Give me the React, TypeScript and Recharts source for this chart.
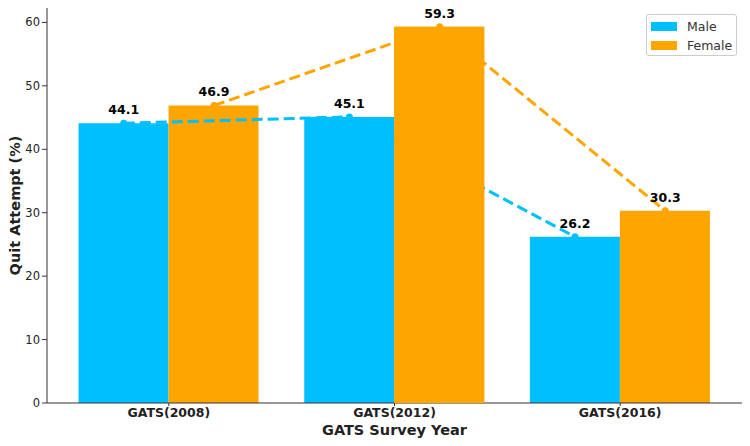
import React from 'react';
import { ComposedChart, Bar, Line, XAxis, YAxis, LabelList } from 'recharts';

const surveys = ['GATS(2008)', 'GATS(2012)', 'GATS(2016)'];
const male = [44.1, 45.1, 26.2];
const female = [46.9, 59.3, 30.3];
const yTicks = [0, 10, 20, 30, 40, 50, 60];

const MALE_COLOR = '#00BFFF';
const FEMALE_COLOR = '#FFA500';
const FONT = '"DejaVu Sans", sans-serif';

// bar table; femaleFront repeats the 2012 female bar so it sits above the dashed lines
const barData = surveys.map((s, i) => ({
  survey: s,
  male: male[i],
  female: female[i],
  femaleFront: i === 1 ? female[i] : null,
}));

// trend points sit on the bar centres (category index -/+ 0.2)
const maleLine = male.map((v, i) => ({ x: i - 0.2, value: v }));
const femaleLine = female.map((v, i) => ({ x: i + 0.2, value: v }));

const renderValue = (props: any) => {
  const { x, y, value } = props;
  return (
    <text x={x} y={y - 9} textAnchor="middle" fontSize={12.5} fontWeight="bold" fill="#000" fontFamily={FONT}>
      {value}
    </text>
  );
};

const legendItems = [
  { name: 'Male', color: MALE_COLOR },
  { name: 'Female', color: FEMALE_COLOR },
];

const App: React.FC = () => {
  return (
    <div style={{ position: 'absolute', left: 0, top: 0, width: 750, height: 446, background: '#fff', fontFamily: FONT }}>
      <ComposedChart
        width={750}
        height={446}
        data={barData}
        margin={{ top: 8, right: 8, left: 0, bottom: 0 }}
        barCategoryGap="10%"
        barGap={0}
      >
        <XAxis
          dataKey="survey"
          padding={{ left: 9, right: 9 }}
          height={43}
          stroke="#333"
          tickSize={3}
          tickMargin={2}
          tick={{ fontSize: 12.5, fontWeight: 'bold', fill: '#222', fontFamily: FONT }}
          label={({ viewBox }: any) => (
            <text
              x={viewBox.x + viewBox.width / 2}
              y={430}
              textAnchor="middle"
              dominantBaseline="central"
              fontSize={14.5}
              fontWeight="bold"
              fill="#222"
              fontFamily={FONT}
            >
              GATS Survey Year
            </text>
          )}
        />
        <XAxis xAxisId="front" dataKey="survey" padding={{ left: 9, right: 9 }} hide />
        <XAxis xAxisId="pos" type="number" dataKey="x" domain={[-0.54, 2.54]} allowDataOverflow hide />
        <YAxis
          width={47}
          domain={[0, 62.27]}
          ticks={yTicks}
          allowDataOverflow
          stroke="#333"
          tickSize={5}
          tickMargin={2}
          tick={{ fontSize: 11.5, fill: '#222', fontFamily: FONT }}
          label={({ viewBox }: any) => (
            <text
              x={15}
              y={viewBox.y + viewBox.height / 2}
              transform={`rotate(-90, 15, ${viewBox.y + viewBox.height / 2})`}
              textAnchor="middle"
              dominantBaseline="central"
              fontSize={14.5}
              fontWeight="bold"
              fill="#222"
              fontFamily={FONT}
            >
              Quit Attempt (%)
            </text>
          )}
        />
        <Bar dataKey="male" name="Male" fill={MALE_COLOR} isAnimationActive={false} />
        <Bar dataKey="female" name="Female" fill={FEMALE_COLOR} isAnimationActive={false} />
        <Line
          xAxisId="pos"
          data={maleLine}
          dataKey="value"
          stroke={MALE_COLOR}
          strokeWidth={3}
          strokeDasharray="11 5"
          dot={{ r: 3.5, fill: MALE_COLOR, stroke: 'none', strokeWidth: 0 }}
          activeDot={false}
          isAnimationActive={false}
        >
          <LabelList dataKey="value" content={renderValue} />
        </Line>
        <Line
          xAxisId="pos"
          data={femaleLine}
          dataKey="value"
          stroke={FEMALE_COLOR}
          strokeWidth={3}
          strokeDasharray="11 5"
          dot={{ r: 3.5, fill: FEMALE_COLOR, stroke: 'none', strokeWidth: 0 }}
          activeDot={false}
          isAnimationActive={false}
        >
          <LabelList dataKey="value" content={renderValue} />
        </Line>
        {/* the 2012 female bar covers the dashed lines in the original */}
        <Bar xAxisId="front" dataKey="male" fill="transparent" isAnimationActive={false} zIndex={500} />
        <Bar xAxisId="front" dataKey="femaleFront" fill={FEMALE_COLOR} isAnimationActive={false} zIndex={500} />
      </ComposedChart>
      <div
        style={{
          position: 'absolute',
          left: 646,
          top: 14,
          width: 89,
          height: 40,
          border: '1px solid #ccc',
          borderRadius: 3,
          background: 'rgba(255,255,255,0.8)',
          fontSize: 12.5,
          color: '#333',
        }}
      >
        {legendItems.map((item, i) => (
          <div key={item.name} style={{ position: 'absolute', left: 4, top: 5 + i * 19, display: 'flex', alignItems: 'center', height: 12 }}>
            <span style={{ display: 'inline-block', width: 26, height: 9, background: item.color, marginRight: 10 }} />
            <span>{item.name}</span>
          </div>
        ))}
      </div>
    </div>
  );
};

export default App;
